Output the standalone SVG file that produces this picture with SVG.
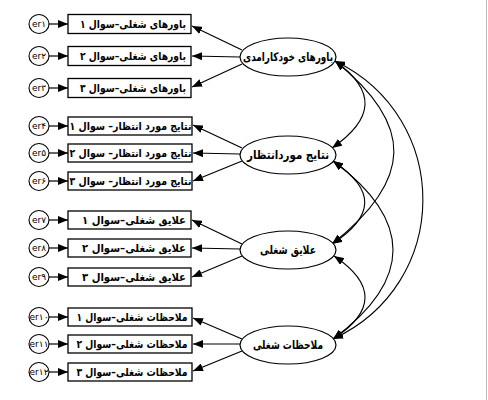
<svg xmlns="http://www.w3.org/2000/svg" width="488" height="400" viewBox="0 0 488 400">
<defs>
<marker id="ah" viewBox="0 0 10 8" refX="10" refY="4" markerWidth="10" markerHeight="8" markerUnits="userSpaceOnUse" orient="auto-start-reverse">
<path d="M0,0 L10,4 L0,8 Z" fill="#000"/>
</marker>
<style>
.bg{fill:#fff}
.box{fill:#fff;stroke:#000;stroke-width:1.3}
.lat{fill:#fff;stroke:#000;stroke-width:1.2}
.err{fill:#fff;stroke:#000;stroke-width:1.1}
.t{font-family:"DejaVu Sans","Noto Sans",sans-serif;font-weight:bold;font-size:11px;text-anchor:middle;dominant-baseline:central}
.tl{font-family:"DejaVu Sans","Noto Sans",sans-serif;font-weight:bold;font-size:12px;text-anchor:middle;dominant-baseline:central}
.te{font-family:"DejaVu Sans","Noto Sans",sans-serif;font-size:9px;text-anchor:middle;dominant-baseline:central}
.ln{fill:none;stroke:#000;stroke-width:1.2;marker-end:url(#ah)}
.cv{fill:none;stroke:#000;stroke-width:1.1;marker-start:url(#ah);marker-end:url(#ah)}
</style>
</defs>
<rect class="bg" x="0" y="0" width="488" height="400"/>
<line x1="486.5" y1="0" x2="486.5" y2="400" stroke="#bbb" stroke-width="1"/>

<g id="connectors">
<line class="ln" x1="49" y1="24" x2="68" y2="24"/>
<line class="ln" x1="49" y1="56" x2="68" y2="56"/>
<line class="ln" x1="49" y1="88" x2="68" y2="88"/>
<line class="ln" x1="49" y1="126" x2="68" y2="126"/>
<line class="ln" x1="49" y1="153" x2="68" y2="153"/>
<line class="ln" x1="49" y1="181" x2="68" y2="181"/>
<line class="ln" x1="49" y1="220" x2="68" y2="220"/>
<line class="ln" x1="49" y1="248" x2="68" y2="248"/>
<line class="ln" x1="49" y1="277" x2="68" y2="277"/>
<line class="ln" x1="49" y1="317" x2="68" y2="317"/>
<line class="ln" x1="49" y1="344" x2="68" y2="344"/>
<line class="ln" x1="49" y1="372" x2="68" y2="372"/>
<line class="ln" x1="242" y1="50" x2="192" y2="26"/>
<line class="ln" x1="240" y1="57" x2="192" y2="56"/>
<line class="ln" x1="242" y1="64" x2="192" y2="87"/>
<line class="ln" x1="242" y1="148" x2="193" y2="125"/>
<line class="ln" x1="240" y1="154" x2="193" y2="153"/>
<line class="ln" x1="242" y1="161" x2="193" y2="181"/>
<line class="ln" x1="242" y1="244" x2="192" y2="220"/>
<line class="ln" x1="240" y1="249" x2="192" y2="248"/>
<line class="ln" x1="242" y1="256" x2="192" y2="277"/>
<line class="ln" x1="242" y1="339" x2="193" y2="318"/>
<line class="ln" x1="240" y1="344" x2="193" y2="344"/>
<line class="ln" x1="242" y1="351" x2="193" y2="371"/>
<path class="cv" d="M335,61 C377,91 374,119 332,148"/>
<path class="cv" d="M335,61 C415,125 413,180 332,244"/>
<path class="cv" d="M335,61 C453,118 452,284 333,339"/>
<path class="cv" d="M333,161 C376,190 375,216 332,244"/>
<path class="cv" d="M333,161 C413,220 413,280 333,339"/>
<path class="cv" d="M334,256 C376,284 375,312 333,339"/>
</g>

<g id="e1"><ellipse class="err" cx="39" cy="24" rx="10" ry="9.5"/><text class="te" x="39" y="24">er۱</text></g>
<g id="e2"><ellipse class="err" cx="39" cy="56" rx="10" ry="9.5"/><text class="te" x="39" y="56">er۲</text></g>
<g id="e3"><ellipse class="err" cx="39" cy="88" rx="10" ry="9.5"/><text class="te" x="39" y="88">er۳</text></g>
<g id="e4"><ellipse class="err" cx="39" cy="126" rx="10" ry="9.5"/><text class="te" x="39" y="126">er۴</text></g>
<g id="e5"><ellipse class="err" cx="39" cy="153" rx="10" ry="9.5"/><text class="te" x="39" y="153">er۵</text></g>
<g id="e6"><ellipse class="err" cx="39" cy="181" rx="10" ry="9.5"/><text class="te" x="39" y="181">er۶</text></g>
<g id="e7"><ellipse class="err" cx="39" cy="220" rx="10" ry="9.5"/><text class="te" x="39" y="220">er۷</text></g>
<g id="e8"><ellipse class="err" cx="39" cy="248" rx="10" ry="9.5"/><text class="te" x="39" y="248">er۸</text></g>
<g id="e9"><ellipse class="err" cx="39" cy="277" rx="10" ry="9.5"/><text class="te" x="39" y="277">er۹</text></g>
<g id="e10"><ellipse class="err" cx="39" cy="317" rx="10" ry="9.5"/><text class="te" x="39" y="317" textLength="19" lengthAdjust="spacingAndGlyphs">er۱۰</text></g>
<g id="e11"><ellipse class="err" cx="39" cy="344" rx="10" ry="9.5"/><text class="te" x="39" y="344" textLength="19" lengthAdjust="spacingAndGlyphs">er۱۱</text></g>
<g id="e12"><ellipse class="err" cx="39" cy="372" rx="10" ry="9.5"/><text class="te" x="39" y="372" textLength="19" lengthAdjust="spacingAndGlyphs">er۱۲</text></g>

<g id="b1"><rect class="box" x="68" y="14.5" width="123" height="19"/><text class="t" x="133" y="24" textLength="106" lengthAdjust="spacingAndGlyphs">باورهای شغلی–سوال ۱</text></g>
<g id="b2"><rect class="box" x="68" y="46.5" width="123" height="19"/><text class="t" x="133" y="56" textLength="106" lengthAdjust="spacingAndGlyphs">باورهای شغلی–سوال ۲</text></g>
<g id="b3"><rect class="box" x="68" y="78.5" width="123" height="19"/><text class="t" x="133" y="88" textLength="106" lengthAdjust="spacingAndGlyphs">باورهای شغلی–سوال ۳</text></g>
<g id="b4"><rect class="box" x="68" y="117" width="124" height="18"/><text class="t" x="130.5" y="126" textLength="122" lengthAdjust="spacingAndGlyphs">نتایج مورد انتظار– سوال ۱</text></g>
<g id="b5"><rect class="box" x="68" y="144" width="124" height="18"/><text class="t" x="130.5" y="153" textLength="122" lengthAdjust="spacingAndGlyphs">نتایج مورد انتظار– سوال ۲</text></g>
<g id="b6"><rect class="box" x="68" y="172" width="124" height="18"/><text class="t" x="130.5" y="181" textLength="122" lengthAdjust="spacingAndGlyphs">نتایج مورد انتظار– سوال ۳</text></g>
<g id="b7"><rect class="box" x="68" y="211" width="123" height="18"/><text class="t" x="134" y="220" textLength="104" lengthAdjust="spacingAndGlyphs">علایق شغلی–سوال ۱</text></g>
<g id="b8"><rect class="box" x="68" y="239" width="123" height="18"/><text class="t" x="134" y="248" textLength="104" lengthAdjust="spacingAndGlyphs">علایق شغلی–سوال ۲</text></g>
<g id="b9"><rect class="box" x="68" y="268" width="123" height="18"/><text class="t" x="134" y="277" textLength="104" lengthAdjust="spacingAndGlyphs">علایق شغلی–سوال ۳</text></g>
<g id="b10"><rect class="box" x="68" y="308" width="124" height="18"/><text class="t" x="132" y="317" textLength="111" lengthAdjust="spacingAndGlyphs">ملاحظات شغلی–سوال ۱</text></g>
<g id="b11"><rect class="box" x="68" y="335" width="124" height="18"/><text class="t" x="132" y="344" textLength="111" lengthAdjust="spacingAndGlyphs">ملاحظات شغلی–سوال ۲</text></g>
<g id="b12"><rect class="box" x="68" y="363" width="124" height="18"/><text class="t" x="132" y="372" textLength="111" lengthAdjust="spacingAndGlyphs">ملاحظات شغلی–سوال ۳</text></g>

<g id="f1"><ellipse class="lat" cx="288" cy="57" rx="48" ry="19"/><text class="tl" x="288" y="57" textLength="90" lengthAdjust="spacingAndGlyphs">باورهای خودکارامدی</text></g>
<g id="f2"><ellipse class="lat" cx="288" cy="155" rx="48" ry="19"/><text class="tl" x="288" y="155" textLength="82" lengthAdjust="spacingAndGlyphs">نتایج موردانتظار</text></g>
<g id="f3"><ellipse class="lat" cx="288" cy="250" rx="48" ry="19"/><text class="tl" x="288" y="250" textLength="56" lengthAdjust="spacingAndGlyphs">علایق شغلی</text></g>
<g id="f4"><ellipse class="lat" cx="288" cy="345" rx="48" ry="19"/><text class="tl" x="288" y="345" textLength="70" lengthAdjust="spacingAndGlyphs">ملاحظات شغلی</text></g>
</svg>
